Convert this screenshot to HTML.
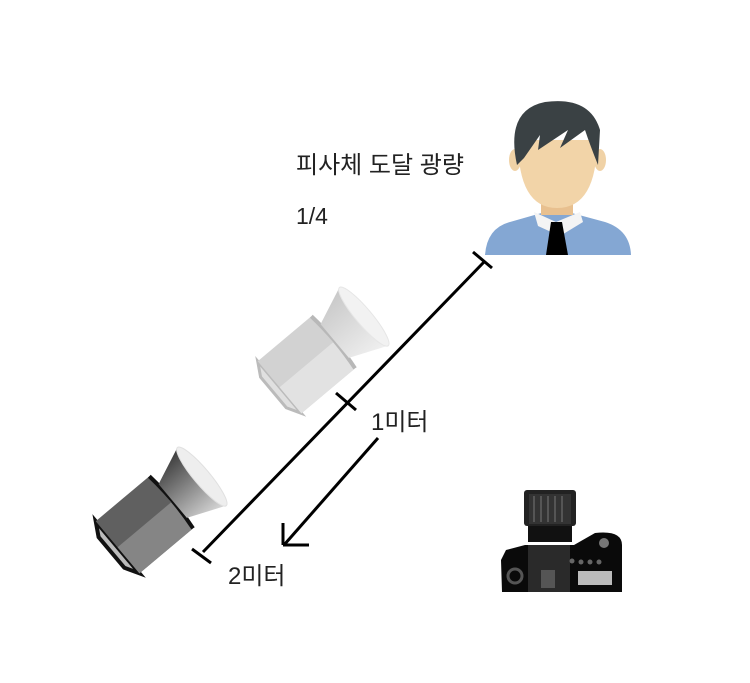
<!DOCTYPE html>
<html><head><meta charset="utf-8"><style>
body{margin:0;background:#fff;width:750px;height:678px;overflow:hidden}
text{font-family:"Liberation Sans","Noto Sans CJK KR",sans-serif;fill:#222}
</style></head><body>
<svg width="750" height="678" viewBox="0 0 750 678" xmlns="http://www.w3.org/2000/svg">
<defs>
<linearGradient id="cl" x1="0" y1="0" x2="0" y2="1"><stop offset="0" stop-color="#c8c8c8"/><stop offset="1" stop-color="#f0f0f0"/></linearGradient>
<linearGradient id="cd" x1="0" y1="0" x2="0" y2="1"><stop offset="0" stop-color="#3a3a3a"/><stop offset="1" stop-color="#d8d8d8"/></linearGradient>
</defs>
<text x="296" y="173" font-size="24">피사체 도달 광량</text>
<text x="296" y="224" font-size="23">1/4</text>
<text x="371" y="430" font-size="24">1미터</text>
<text x="228" y="584" font-size="24">2미터</text>
<!-- light 1 -->
<g transform="translate(324,350) rotate(-40)">
<path d="M-66,-20 L-58,-34 L-58,34 L-66,20 Z" fill="#e0e0e0" stroke="#bbb" stroke-width="3"/>
<path d="M-58,-34 L12,-34 L12,34 L-58,34 Z" fill="#d2d2d2"/>
<path d="M-58,0 L12,0 L12,34 L-58,34Z" fill="#e2e2e2"/>
<path d="M12,-34 Q16,0 12,34" stroke="#b8b8b8" stroke-width="4" fill="none"/>
<path d="M14,-22 L52,-38 L52,38 L14,22 Z" fill="url(#cl)"/>
<ellipse cx="52" cy="0" rx="8" ry="38" fill="#f2f2f2" stroke="#e6e6e6"/>
</g>
<!-- light 2 -->
<g transform="translate(162,510) rotate(-40)">
<path d="M-66,-20 L-58,-34 L-58,34 L-66,20 Z" fill="#bbb" stroke="#111" stroke-width="4"/>
<path d="M-58,-34 L12,-34 L12,34 L-58,34 Z" fill="#606060"/>
<path d="M-58,0 L12,0 L12,34 L-58,34Z" fill="#858585"/>
<path d="M12,-34 Q16,0 12,34" stroke="#111" stroke-width="4" fill="none"/>
<path d="M14,-22 L52,-38 L52,38 L14,22 Z" fill="url(#cd)"/>
<ellipse cx="52" cy="0" rx="8" ry="38" fill="#eeeeee" stroke="#e0e0e0"/>
</g>
<!-- lines -->
<g stroke="#000" stroke-width="3" fill="none">
<line x1="203" y1="552" x2="484" y2="262"/>
<line x1="192" y1="549" x2="211" y2="563"/>
<line x1="473" y1="252" x2="492" y2="268"/>
<line x1="336" y1="393" x2="356" y2="410"/>
<line x1="378" y1="438" x2="284" y2="545"/>
<line x1="283" y1="523" x2="283" y2="545"/>
<line x1="283" y1="545" x2="309" y2="545"/>
</g>
<!-- person -->
<path d="M485,255 Q487,228 510,222 L545,212 L568,212 L605,222 Q630,230 631,255 Z" fill="#84a7d3"/>
<rect x="541" y="195" width="32" height="20" fill="#e8c08f"/>
<path d="M534,212 L556,222 L580,212 L583,222 L560,236 L538,226 Z" fill="#f4f4f4"/>
<path d="M551,222 L562,222 L568,255 L546,255 Z" fill="#000"/>
<ellipse cx="515" cy="160" rx="6" ry="11" fill="#f0d2a6"/>
<ellipse cx="600" cy="160" rx="6" ry="11" fill="#f0d2a6"/>
<path d="M518,140 Q518,208 557,208 Q597,208 597,140 Z" fill="#f2d4a8"/>
<path d="M517,165 Q505,110 545,102 Q590,96 600,130 L598,165 Q590,145 585,130 L560,148 L568,130 L538,150 L540,135 L524,158 Z" fill="#3a4144"/>
<!-- camera -->
<g>
<rect x="524" y="490" width="52" height="36" rx="3" fill="#222"/>
<rect x="529" y="494" width="42" height="30" fill="#333"/>
<g stroke="#555" stroke-width="2"><line x1="534" y1="496" x2="534" y2="522"/><line x1="541" y1="496" x2="541" y2="522"/><line x1="548" y1="496" x2="548" y2="522"/><line x1="555" y1="496" x2="555" y2="522"/><line x1="562" y1="496" x2="562" y2="522"/></g>
<rect x="528" y="526" width="44" height="16" fill="#111"/>
<path d="M506,550 L525,545 L574,545 L595,533 Q622,530 622,545 L622,592 L502,592 L501,560 Z" fill="#0a0a0a"/>
<rect x="528" y="545" width="42" height="47" fill="#2a2a2a"/>
<circle cx="515" cy="576" r="7" fill="none" stroke="#555" stroke-width="3"/>
<rect x="541" y="570" width="14" height="18" fill="#555"/>
<rect x="578" y="571" width="34" height="14" fill="#bbb"/>
<circle cx="604" cy="543" r="5" fill="#777"/>
<g fill="#666"><circle cx="572" cy="561" r="2.5"/><circle cx="581" cy="562" r="2.5"/><circle cx="590" cy="562" r="2.5"/><circle cx="599" cy="562" r="2.5"/></g>
</g>
</svg>
</body></html>
